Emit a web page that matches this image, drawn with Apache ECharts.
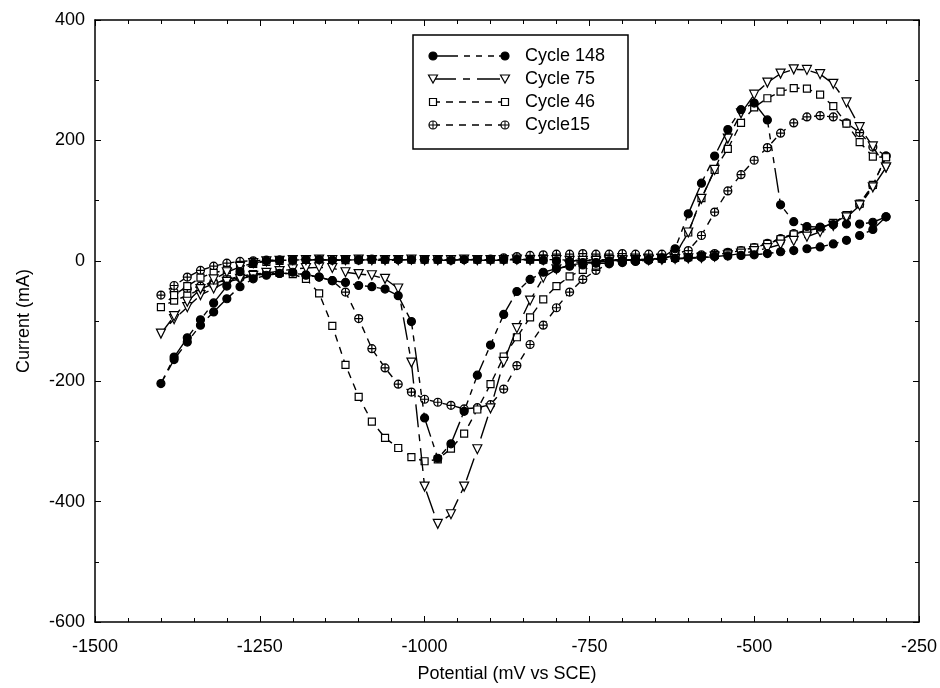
<!DOCTYPE html>
<html>
<head>
<meta charset="utf-8">
<title>Cyclic voltammograms</title>
<script src="https://cdn.jsdelivr.net/npm/echarts@6/dist/echarts.min.js"></script>
<style>
  html, body { margin: 0; padding: 0; background: #fff; }
  #chart { width: 940px; height: 688px; }
</style>
</head>
<body>
<div id="chart"></div>
<script>
// Scan potentials (mV vs SCE): cathodic sweep -300 -> -1400, then back to -300
const cathodicPotential = [-300, -320, -340, -360, -380, -400, -420, -440, -460, -480, -500, -520, -540, -560, -580, -600,
  -620, -640, -660, -680, -700, -720, -740, -760, -780, -800, -820, -840, -860, -880, -900,
  -920, -940, -960, -980, -1000, -1020, -1040, -1060, -1080, -1100, -1120, -1140, -1160, -1180, -1200,
  -1220, -1240, -1260, -1280, -1300, -1320, -1340, -1360, -1380, -1400];
const anodicPotential = [-1380, -1360, -1340, -1320, -1300, -1280, -1260, -1240,
  -1220, -1200, -1180, -1160, -1140, -1120, -1100, -1080, -1060, -1040, -1020, -1000, -980, -960, -940, -920, -900, -880, -860, -840, -820,
  -800, -780, -760, -740, -720, -700, -680, -660, -640,
  -620, -600, -580, -560, -540, -520, -500, -480, -460, -440, -420, -400, -380, -360, -340, -320, -300];

// Current (mA) along each sweep
const cycle148Cathodic = [73, 52, 42, 34, 28, 23, 20, 17, 15, 12, 10, 9, 8, 7, 6, 5,
  4, 3, 2, 2, 1, 0, -3, -7, -9, -13, -19, -31, -51, -89, -140,
  -190, -250, -304, -328, -261, -101, -58, -47, -43, -41, -36, -33, -27, -24, -19,
  -21, -24, -30, -43, -63, -85, -107, -135, -164, -204];
const cycle148Anodic = [-160, -128, -98, -70, -42, -18, -4, 0,
  1, 2, 2, 2, 1, 2, 2, 3, 2, 2, 2, 2, 2, 1, 2, 2, 2, 2, 2, 2, 1,
  0, -1, -3, -4, -4, -3, -1, 1, 5,
  20, 78, 129, 174, 218, 251, 262, 234, 93, 65, 57, 56, 60, 61, 61, 64, 73];

const cycle75Cathodic = [155, 122, 92, 72, 58, 48, 40, 33, 27, 21, 16, 12, 9, 7, 5, 4,
  3, 2, 1, 1, 0, -1, -2, -4, -7, -14, -28, -66, -112, -168, -245,
  -313, -375, -421, -437, -375, -169, -46, -30, -24, -22, -19, -12, -11, -12, -14,
  -17, -20, -25, -30, -35, -46, -57, -77, -97, -121];
const cycle75Anodic = [-92, -68, -47, -31, -19, -10, -4, -1,
  0, 1, 1, 2, 1, 1, 2, 1, 1, 1, 2, 1, 1, 1, 2, 1, 1, 1, 2, 1, 1,
  1, 0, 0, 0, 1, 1, 1, 2, 3,
  10, 47, 103, 151, 203, 245, 276, 296, 311, 318, 317, 310, 294, 263, 222, 190, 155];

const cycle46Cathodic = [172, 126, 95, 76, 63, 54, 50, 44, 36, 28, 22, 17, 13, 10, 8, 6,
  5, 4, 3, 2, 1, -2, -8, -15, -26, -42, -64, -94, -127, -159, -205,
  -247, -287, -312, -330, -333, -326, -311, -294, -267, -226, -173, -108, -54, -30, -22,
  -20, -20, -22, -26, -31, -38, -47, -58, -66, -77];
const cycle46Anodic = [-57, -42, -28, -20, -15, -10, -5, -2,
  0, 1, 2, 2, 2, 1, 2, 2, 2, 3, 2, 2, 2, 2, 3, 2, 2, 2, 3, 2, 2,
  2, 1, 1, 2, 2, 2, 2, 3, 4,
  9, 47, 104, 151, 186, 229, 255, 270, 281, 287, 286, 276, 257, 228, 197, 173, 172];

const cycle15Cathodic = [174, 125, 94, 75, 62, 55, 51, 45, 37, 29, 22, 17, 14, 12, 10, 8,
  6, 4, 3, 1, -1, -5, -16, -31, -52, -78, -107, -139, -174, -213, -239,
  -244, -246, -240, -235, -230, -218, -205, -178, -146, -96, -52, -33, -27, -23, -21,
  -21, -22, -24, -28, -32, -37, -42, -47, -52, -57];
const cycle15Anodic = [-41, -27, -16, -9, -4, -1, 0, 1,
  1, 1, 2, 1, 2, 2, 1, 2, 2, 2, 2, 2, 2, 2, 2, 2, 3, 5, 7, 9, 10,
  11, 11, 12, 11, 11, 12, 11, 11, 11,
  12, 17, 42, 81, 116, 143, 167, 188, 212, 229, 239, 241, 239, 229, 213, 189, 174];

const xTicks = { min: -1500, max: -250, step: 250 };
const yTicks = { min: -600, max: 400, step: 200 };

const FONT = '"Liberation Sans", Arial, Helvetica, sans-serif';

// marker glyphs
const SYM_TRIANGLE_DOWN = 'path://M0,0L10,0L5,9Z';
const SYM_CIRCLE_PLUS = 'path://M10,5A5,5,0,1,1,0,5A5,5,0,1,1,10,5ZM0,5L10,5M5,0L5,10';

const cycles = [
  { name: 'Cycle 148', cat: cycle148Cathodic, an: cycle148Anodic, symbol: 'circle', size: 8, fill: '#000', dash: [25, 6, 6, 6, 6, 6, 6, 5] },
  { name: 'Cycle 75', cat: cycle75Cathodic, an: cycle75Anodic, symbol: SYM_TRIANGLE_DOWN, size: 9, fill: '#fff', dash: [23, 7, 7, 7] },
  { name: 'Cycle 46', cat: cycle46Cathodic, an: cycle46Anodic, symbol: 'rect', size: 7, fill: '#fff', dash: [7, 6] },
  { name: 'Cycle15', cat: cycle15Cathodic, an: cycle15Anodic, symbol: SYM_CIRCLE_PLUS, size: 8, fill: '#fff', dash: [7, 6] }
];

function sweepPoints(c) {
  const pts = cathodicPotential.map((p, i) => [p, c.cat[i]]);
  return pts.concat(anodicPotential.map((p, i) => [p, c.an[i]]));
}

// draw the older cycles first so the filled markers sit on top
const series = cycles.slice().reverse().map((c, k) => ({
  type: 'line',
  name: c.name,
  data: sweepPoints(c),
  xAxisIndex: 0,
  yAxisIndex: 0,
  smooth: false,
  silent: true,
  showSymbol: true,
  showAllSymbol: true,
  symbol: c.symbol,
  symbolSize: c.size,
  itemStyle: { color: c.fill, borderColor: '#000', borderWidth: 1.2 },
  lineStyle: { color: '#000', width: 1.4, type: c.dash },
  z: 2 + k
}));

// legend box drawn with graphic elements: line, marker at both ends, label
const legendBox = { x: 413, y: 35, w: 215, h: 114 };
const legendRowsY = [56, 79, 102, 125];
const legendX1 = 433, legendX2 = 505, legendTextX = 525;

function legendMarker(kind, cx, cy) {
  const st = { fill: kind === 'circle' ? '#000' : '#fff', stroke: '#000', lineWidth: 1.2 };
  if (kind === 'circle') return [{ type: 'circle', shape: { cx, cy, r: 4 }, style: st }];
  if (kind === SYM_TRIANGLE_DOWN) return [{ type: 'polygon', shape: { points: [[cx - 4.5, cy - 4], [cx + 4.5, cy - 4], [cx, cy + 4]] }, style: st }];
  if (kind === 'rect') return [{ type: 'rect', shape: { x: cx - 3.5, y: cy - 3.5, width: 7, height: 7 }, style: st }];
  return [
    { type: 'circle', shape: { cx, cy, r: 4 }, style: st },
    { type: 'line', shape: { x1: cx - 4, y1: cy, x2: cx + 4, y2: cy }, style: { stroke: '#000', lineWidth: 1 } },
    { type: 'line', shape: { x1: cx, y1: cy - 4, x2: cx, y2: cy + 4 }, style: { stroke: '#000', lineWidth: 1 } }
  ];
}

const legendChildren = [{
  type: 'rect',
  shape: { x: legendBox.x, y: legendBox.y, width: legendBox.w, height: legendBox.h },
  style: { fill: '#fff', stroke: '#000', lineWidth: 1.5 }
}];
cycles.forEach((c, i) => {
  const y = legendRowsY[i];
  legendChildren.push({
    type: 'line',
    shape: { x1: legendX1, y1: y, x2: legendX2, y2: y },
    style: { stroke: '#000', lineWidth: 1.4, lineDash: c.dash }
  });
  legendChildren.push(...legendMarker(c.symbol, legendX1, y));
  legendChildren.push(...legendMarker(c.symbol, legendX2, y));
  legendChildren.push({
    type: 'text',
    x: legendTextX,
    y: y,
    style: { text: c.name, fontSize: 18, fontFamily: FONT, fill: '#000', verticalAlign: 'middle', textAlign: 'left' }
  });
});

const axisLine = { show: true, onZero: false, lineStyle: { color: '#000', width: 1.5 } };
const tickStyle = { color: '#000', width: 1 };
const plainNumber = v => String(v);

const option = {
  animation: false,
  backgroundColor: '#fff',
  textStyle: { fontFamily: FONT },
  grid: { left: 95, right: 18, top: 20, bottom: 62 },
  xAxis: [
    {
      type: 'value', position: 'bottom',
      min: xTicks.min, max: xTicks.max, interval: xTicks.step,
      axisLine: axisLine,
      axisTick: { show: true, inside: true, length: 6, lineStyle: tickStyle },
      minorTick: { show: true, splitNumber: 5, length: 4, lineStyle: tickStyle },
      splitLine: { show: false },
      axisLabel: { color: '#000', fontSize: 18, fontFamily: FONT, margin: 16, formatter: plainNumber },
      name: 'Potential (mV vs SCE)', nameLocation: 'middle', nameGap: 43,
      nameTextStyle: { color: '#000', fontSize: 18, fontFamily: FONT }
    },
    {
      type: 'value', position: 'top',
      min: xTicks.min, max: xTicks.max, interval: xTicks.step,
      axisLine: axisLine,
      axisTick: { show: true, inside: true, length: 6, lineStyle: tickStyle },
      minorTick: { show: true, splitNumber: 5, length: 4, lineStyle: tickStyle },
      splitLine: { show: false },
      axisLabel: { show: false }
    }
  ],
  yAxis: [
    {
      type: 'value', position: 'left',
      min: yTicks.min, max: yTicks.max, interval: yTicks.step,
      axisLine: axisLine,
      axisTick: { show: true, inside: true, length: 6, lineStyle: tickStyle },
      minorTick: { show: true, splitNumber: 2, length: 4, lineStyle: tickStyle },
      splitLine: { show: false },
      axisLabel: { color: '#000', fontSize: 18, fontFamily: FONT, margin: 10, formatter: plainNumber },
      name: 'Current (mA)', nameLocation: 'middle', nameGap: 62, nameRotate: 90,
      nameTextStyle: { color: '#000', fontSize: 18, fontFamily: FONT }
    },
    {
      type: 'value', position: 'right',
      min: yTicks.min, max: yTicks.max, interval: yTicks.step,
      axisLine: axisLine,
      axisTick: { show: true, inside: true, length: 6, lineStyle: tickStyle },
      minorTick: { show: true, splitNumber: 2, length: 4, lineStyle: tickStyle },
      splitLine: { show: false },
      axisLabel: { show: false }
    }
  ],
  graphic: [{ type: 'group', z: 100, children: legendChildren }],
  series: series
};

const chart = echarts.init(document.getElementById('chart'), null, { renderer: 'canvas' });
chart.setOption(option);
</script>
</body>
</html>
